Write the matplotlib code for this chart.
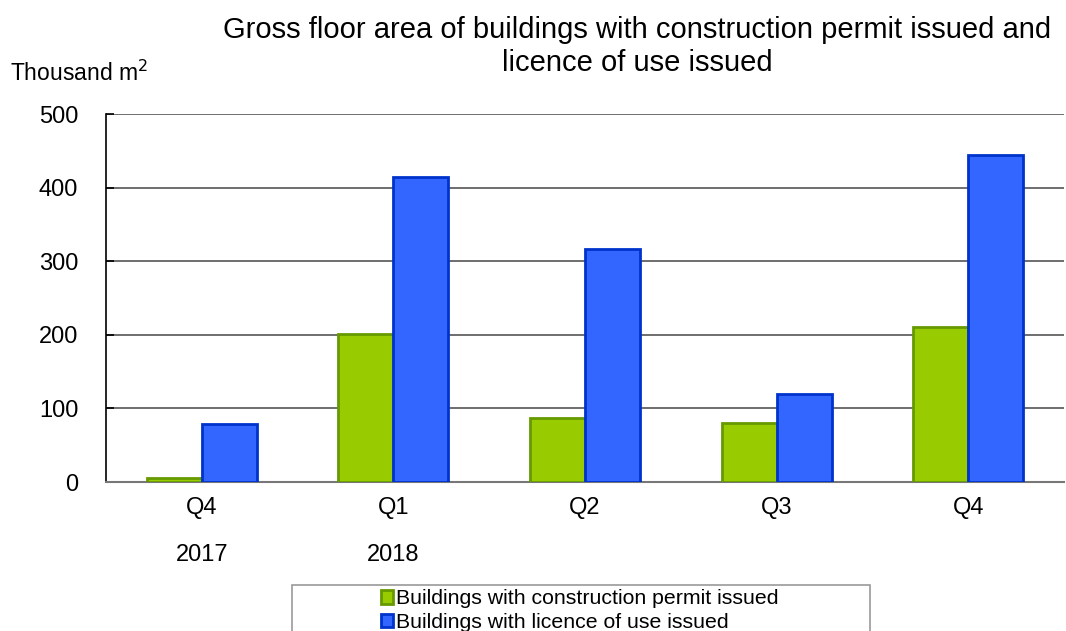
import matplotlib
matplotlib.use("Agg")
import matplotlib.pyplot as plt
from matplotlib.patches import Rectangle
import numpy as np

plt.rcParams["font.family"] = ["Liberation Sans", "DejaVu Sans"]

# data (thousand m2)
quarters = ["Q4", "Q1", "Q2", "Q3", "Q4"]
years = ["2017", "2018", "", "", ""]
permit = [6, 201, 87, 80, 211]
licence = [79, 414, 317, 120, 444]

fig = plt.figure(figsize=(10.66, 6.31), dpi=100)
ax = fig.add_axes([0.0994, 0.2361, 0.8987, 0.5832])

x = np.arange(len(quarters))
w = 0.287
ax.bar(x - w / 2, permit, w, color="#99CC00", edgecolor="#669900", linewidth=2,
       label="Buildings with construction permit issued", zorder=3)
ax.bar(x + w / 2, licence, w, color="#3366FF", edgecolor="#0033CC", linewidth=2,
       label="Buildings with licence of use issued", zorder=3)

ax.set_xlim(-0.5, 4.5)
ax.set_ylim(0, 500)
ax.set_yticks(range(0, 501, 100))
ax.yaxis.grid(True, color="#555555", linewidth=1.2, zorder=0)
ax.tick_params(axis="y", labelsize=17, direction="in", length=6, width=1.2, pad=20)
ax.tick_params(axis="x", length=0, labelsize=17, pad=11)
ax.set_xticks(x)
ax.set_xticklabels(quarters)

for i, yr in enumerate(years):
    if yr:
        ax.text(i, -0.198, yr, transform=ax.get_xaxis_transform(), ha="center",
                va="center", fontsize=17)

for s in ["top", "right"]:
    ax.spines[s].set_visible(False)
ax.spines["left"].set_color("black")
ax.spines["left"].set_linewidth(1.2)
ax.spines["bottom"].set_color("#777777")
ax.spines["bottom"].set_linewidth(1.5)

fig.text(0.598, 0.9525, "Gross floor area of buildings with construction permit issued and",
         ha="center", va="center", fontsize=21)
fig.text(0.598, 0.900, "licence of use issued", ha="center", va="center", fontsize=21)
fig.text(0.0094, 0.884, "Thousand m$^2$", ha="left", va="center", fontsize=16.5)

# legend box is wider than its content in the original
fig.patches.append(Rectangle((292 / 1066, -0.05), (870 - 292) / 1066, 0.05 + 1 - 585 / 631,
                             transform=fig.transFigure, facecolor="white",
                             edgecolor="#999999", linewidth=1.2, zorder=1))
leg = fig.legend(loc="upper left", bbox_to_anchor=(0.357, 0.066), ncol=1,
                 fontsize=15.3, frameon=False,
                 handlelength=0.6, handleheight=0.6, handletextpad=0.15,
                 borderpad=0, borderaxespad=0, labelspacing=0.22)
leg.set_zorder(2)

fig.savefig("out.png", dpi=100)
